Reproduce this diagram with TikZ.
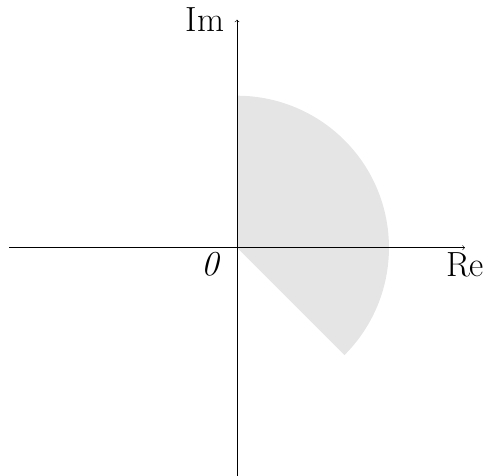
\documentclass[tikz,border=0pt]{standalone}
\usetikzlibrary{arrows}
\tikzstyle{axis} = [->, thin]
\tikzstyle{sector} = [fill=black!10, draw=none]
\tikzstyle{lbl} = [font=\Huge]

\begin{document}
\begin{tikzpicture}[scale=1.9]
    \useasboundingbox (-3.12,-3.0) rectangle (3.33,3.26);
    % shaded sector
    \fill [sector] (0,0) -- (-45:2) arc (-45:90:2) -- cycle;
    % axes
    \coordinate (o) at (0,0);
    \coordinate (xl) at (-3,0);
    \coordinate (xr) at (3,0);
    \coordinate (yb) at (0,-3);
    \coordinate (yt) at (0,3);
    \draw [axis] (xl) -- (xr) node [lbl, below] (re) {Re};
    \draw [axis] (yb) -- (yt) node [lbl, left, xshift=-0.2cm] (im) {Im};
    \node [lbl, below left, xshift=-0.3cm] (zero) at (o) {\textit{0}};
\end{tikzpicture}
\end{document}
